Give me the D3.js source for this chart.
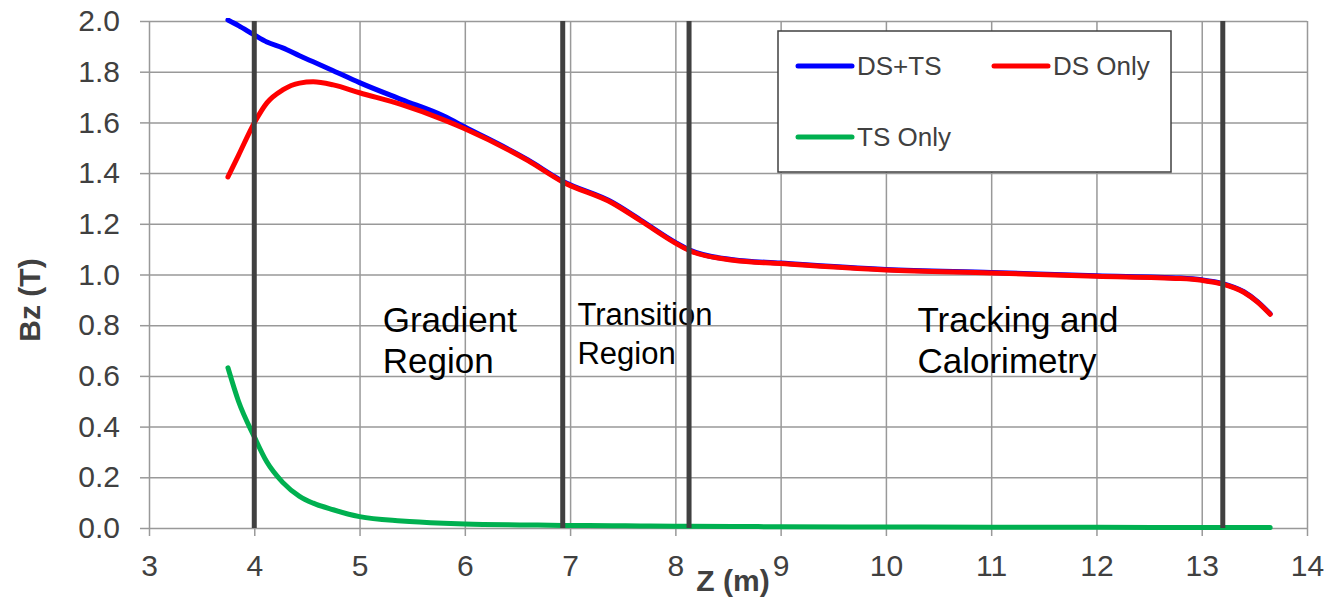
<!DOCTYPE html>
<html>
<head>
<meta charset="utf-8">
<script src="https://cdn.jsdelivr.net/npm/d3@7"></script>
<style>
  body { margin: 0; background: #fff; }
  svg { font-family: "Liberation Sans", Arial, sans-serif; }
</style>
</head>
<body>
<svg id="chart" width="1324" height="597"></svg>
<script>
// z positions (m) where the curves were read
var zValues = [3.75, 3.85, 4.0, 4.12, 4.27, 4.43, 4.56, 4.75, 5.0, 5.4, 5.8, 6.0, 6.6, 6.93,
               7.4, 7.67, 8.0, 8.13, 8.55, 9.0, 10.0, 11.0, 12.0, 12.8, 13.0, 13.2, 13.4, 13.53, 13.65];

var dsTs = [2.004, 1.982, 1.945, 1.917, 1.894, 1.863, 1.839, 1.804, 1.757, 1.69, 1.625, 1.582, 1.452, 1.368,
            1.285, 1.215, 1.127, 1.098, 1.058, 1.045, 1.020, 1.008, 0.995, 0.986, 0.979, 0.964, 0.932, 0.893, 0.845];

var dsOnly = [1.385, 1.47, 1.598, 1.677, 1.728, 1.755, 1.76, 1.748, 1.717, 1.67, 1.61, 1.575, 1.449, 1.365,
              1.282, 1.212, 1.124, 1.095, 1.056, 1.043, 1.018, 1.006, 0.993, 0.984, 0.977, 0.962, 0.930, 0.891, 0.843];

var tsOnly = [0.632, 0.50, 0.36, 0.26, 0.18, 0.125, 0.098, 0.072, 0.045, 0.028, 0.019, 0.016, 0.012, 0.010,
              0.009, 0.008, 0.007, 0.007, 0.006, 0.005, 0.004, 0.003, 0.003, 0.002, 0.002, 0.002, 0.002, 0.002, 0.002];

var seriesNames = ["DS+TS", "DS Only", "TS Only"];
var seriesColors = ["#0000ff", "#ff0000", "#00b050"];

// region boundaries (thick dark lines)
var regionBounds = [4.0, 6.93, 8.13, 13.2];

var xTicks = [3, 4, 5, 6, 7, 8, 9, 10, 11, 12, 13, 14];
var yTicks = [0, 0.2, 0.4, 0.6, 0.8, 1.0, 1.2, 1.4, 1.6, 1.8, 2.0];

var svg = d3.select("svg#chart"),
    width = +svg.attr("width"),
    height = +svg.attr("height");

var margin = {top: 21, right: 17, bottom: 69, left: 149};
var innerW = width - margin.left - margin.right,
    innerH = height - margin.top - margin.bottom;

var x = d3.scaleLinear().domain([3, 14]).range([0, innerW]);
var y = d3.scaleLinear().domain([0, 2]).range([innerH, 0]);

var g = svg.append("g").attr("transform", "translate(" + margin.left + "," + margin.top + ")");

svg.append("defs").append("clipPath").attr("id", "plotclip")
  .append("rect").attr("x", 0).attr("y", -3).attr("width", innerW).attr("height", innerH + 6);

//gridlines
var gridX = g.append("g").attr("transform", "translate(0," + innerH + ")")
  .call(d3.axisBottom(x).tickValues(xTicks).tickSize(-innerH).tickFormat(""));
var gridY = g.append("g")
  .call(d3.axisLeft(y).tickValues(yTicks).tickSize(-innerW).tickFormat(""));
[gridX, gridY].forEach(function(a) {
  a.select(".domain").remove();
  a.selectAll("line").attr("stroke", "#999").attr("stroke-width", 1.5);
});

//axes with labels
var xAxis = g.append("g").attr("transform", "translate(0," + innerH + ")")
  .call(d3.axisBottom(x).tickValues(xTicks).tickSize(8).tickPadding(19).tickFormat(d3.format("d")));
var yAxis = g.append("g")
  .call(d3.axisLeft(y).tickValues(yTicks).tickSize(9).tickPadding(20).tickFormat(d3.format(".1f")));
[xAxis, yAxis].forEach(function(a) {
  a.select(".domain").remove();
  a.selectAll("line").attr("stroke", "#999").attr("stroke-width", 1.5);
  a.selectAll("text").attr("fill", "#404040").style("font-size", "30px")
    .style("font-family", "'Liberation Sans', Arial, sans-serif");
});

// annotations
var annot = g.append("g").attr("fill", "#000");
function addLabel(z, v, lines, size, lh) {
  var t = annot.append("text").attr("x", x(z)).attr("y", y(v)).style("font-size", size + "px");
  lines.forEach(function(l, i) {
    t.append("tspan").attr("x", x(z)).attr("dy", i === 0 ? 0 : lh).text(l);
  });
}
addLabel(5.22, 0.773, ["Gradient", "Region"], 35, 41);
addLabel(7.07, 0.80, ["Transition", "Region"], 31, 39);
addLabel(10.30, 0.773, ["Tracking and", "Calorimetry"], 35, 41);

// curves
var allSeries = [dsTs, dsOnly, tsOnly];
var line = d3.line()
  .x(function(d, i) { return x(zValues[i]); })
  .y(function(d) { return y(d); })
  .curve(d3.curveMonotoneX);

g.append("g").attr("clip-path", "url(#plotclip)")
  .selectAll("path")
  .data(allSeries)
  .enter().append("path")
  .attr("d", line)
  .attr("fill", "none")
  .attr("stroke", function(d, i) { return seriesColors[i]; })
  .attr("stroke-width", 5)
  .attr("stroke-linecap", "round")
  .attr("stroke-linejoin", "round");

// region boundary lines
g.append("g").selectAll("line")
  .data(regionBounds)
  .enter().append("line")
  .attr("x1", function(d) { return x(d); })
  .attr("x2", function(d) { return x(d); })
  .attr("y1", y(0))
  .attr("y2", y(2))
  .attr("stroke", "#404040")
  .attr("stroke-width", 5);

// axis titles
svg.append("text")
  .attr("x", 733)
  .attr("y", 591)
  .attr("text-anchor", "middle")
  .attr("fill", "#404040")
  .style("font-size", "30px").style("font-weight", "bold")
  .text("Z (m)");

svg.append("text")
  .attr("transform", "translate(40," + 300 + ") rotate(-90)")
  .attr("text-anchor", "middle")
  .attr("fill", "#404040")
  .style("font-size", "30px").style("font-weight", "bold")
  .text("Bz (T)");

// legend
var legend = svg.append("g").attr("transform", "translate(778,31)");
legend.append("rect")
  .attr("width", 393).attr("height", 141)
  .attr("fill", "#fff").attr("stroke", "#404040").attr("stroke-width", 1.5);

var legendPos = [[20, 35], [216, 35], [20, 106]];
var item = legend.selectAll("g.item")
  .data(seriesNames)
  .enter().append("g")
  .attr("class", "item")
  .attr("transform", function(d, i) { return "translate(" + legendPos[i][0] + "," + legendPos[i][1] + ")"; });
item.append("line")
  .attr("x1", 0).attr("x2", 54).attr("y1", 0).attr("y2", 0)
  .attr("stroke", function(d, i) { return seriesColors[i]; })
  .attr("stroke-width", 5).attr("stroke-linecap", "round");
item.append("text")
  .attr("x", 59).attr("y", 9)
  .attr("fill", "#404040")
  .style("font-size", "26px")
  .text(function(d) { return d; });
</script>
</body>
</html>
